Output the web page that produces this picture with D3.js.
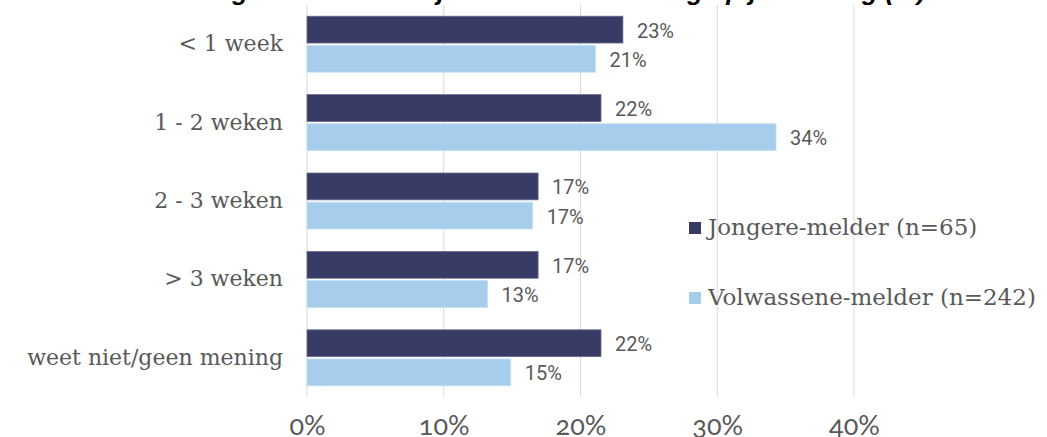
<!DOCTYPE html>
<html>
<head>
<meta charset="utf-8">
<script src="https://cdn.jsdelivr.net/npm/d3@7"></script>
<style>
  html, body { margin: 0; padding: 0; background: #fff; }
  svg { display: block; }
</style>
</head>
<body>
<svg id="chart" width="1047" height="437"></svg>
<script>
// Response time categories and share per reporter type
const categories = ["< 1 week", "1 - 2 weken", "2 - 3 weken", "> 3 weken", "weet niet/geen mening"];
const seriesNames = ["Jongere-melder (n=65)", "Volwassene-melder (n=242)"];
const jongere = [23.1, 21.5, 16.9, 16.9, 21.5];
const volwassene = [21.1, 34.3, 16.5, 13.2, 14.9];
const tickValues = [0, 10, 20, 30, 40];
const titleText = "Hoe lang duurde het tot je een reactie ontving op je melding (%)";

const colors = ["#383b66", "#a6cdec"];
const serif = "'DejaVu Serif', 'Liberation Serif', serif";

const svg = d3.select("#chart");

const x = d3.scaleLinear().domain([0, 40]).range([307, 854]);
const y = d3.scaleBand().domain(categories).range([5, 397])
  .paddingInner(0.286).paddingOuter(0.143);
const ySub = d3.scaleBand().domain([0, 1]).range([0, y.bandwidth()]).paddingInner(0.08);

// Title (runs off the top edge, only descenders remain in view)
svg.append("text")
  .attr("x", 532).attr("y", 0)
  .attr("text-anchor", "middle")
  .style("font-family", "'Liberation Sans', Arial, sans-serif")
  .style("font-weight", "bold").style("font-style", "italic")
  .style("font-size", "26px").style("fill", "#000")
  .text(titleText);

// Vertical gridlines
svg.append("g").selectAll("line").data(tickValues).join("line")
  .attr("x1", d => x(d)).attr("x2", d => x(d))
  .attr("y1", 5).attr("y2", 397)
  .attr("stroke", "#d9d9d9").attr("stroke-width", 1);

// Bars
const rows = categories.map((c, i) => ({ c, vals: [jongere[i], volwassene[i]] }));
const groups = svg.append("g").selectAll("g").data(rows).join("g")
  .attr("transform", d => `translate(0,${y(d.c)})`);

groups.selectAll("rect").data(d => d.vals.map((v, s) => ({ v, s }))).join("rect")
  .attr("x", x(0))
  .attr("y", d => ySub(d.s))
  .attr("width", d => x(d.v) - x(0))
  .attr("height", ySub.bandwidth())
  .attr("fill", d => colors[d.s])
  .attr("stroke", d => d.s === 0 ? "#6a6d90" : "#c4dff3")
  .attr("stroke-width", 0.8);

// Value labels
groups.selectAll("text").data(d => d.vals.map((v, s) => ({ v, s }))).join("text")
  .attr("x", d => x(d.v) + 14)
  .attr("y", d => ySub(d.s) + ySub.bandwidth() / 2 + 1)
  .attr("dy", "0.35em")
  .style("font-family", "Roboto, sans-serif")
  .style("font-size", "20px")
  .style("fill", "#595959")
  .text(d => Math.round(d.v) + "%");

// Category axis
const yAxis = svg.append("g").attr("transform", `translate(${x(0)},0)`)
  .call(d3.axisLeft(y).tickSize(0).tickPadding(24));
yAxis.select(".domain").remove();
yAxis.selectAll("text")
  .style("font-family", serif).style("font-size", "22px").style("fill", "#595959");

// Value axis
const xAxis = svg.append("g").attr("transform", "translate(0,397)")
  .call(d3.axisBottom(x).tickValues(tickValues).tickSize(0).tickPadding(0)
    .tickFormat(d => d + "%"));
xAxis.select(".domain").remove();
xAxis.selectAll("text")
  .attr("y", 38).attr("dy", null)
  .style("font-family", "Lato, sans-serif").style("font-size", "27px")
  .style("font-variant-numeric", "oldstyle-nums")
  .style("fill", "#595959");

// Legend
const legend = svg.append("g").selectAll("g").data(seriesNames).join("g")
  .attr("transform", (d, i) => `translate(689,${222 + i * 70})`);
legend.append("rect").attr("width", 12).attr("height", 12).attr("fill", (d, i) => colors[i]);
legend.append("text").attr("x", 19).attr("y", 13)
  .style("font-family", serif).style("font-size", "23px").style("fill", "#595959")
  .text(d => d);
</script>
</body>
</html>
